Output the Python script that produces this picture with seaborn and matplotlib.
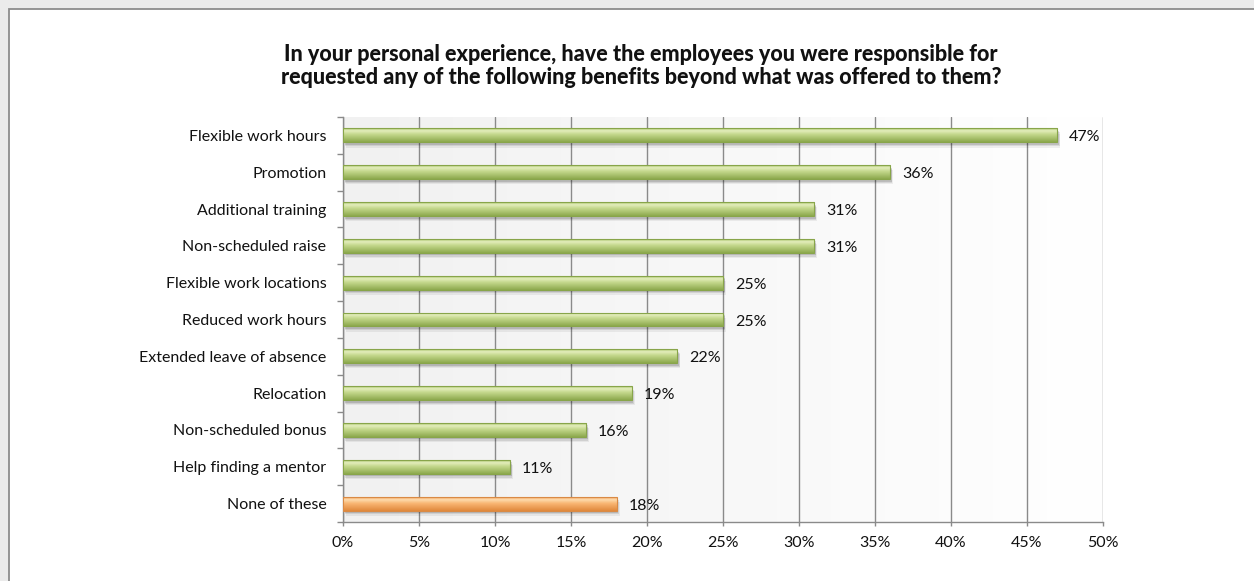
import numpy as np
import pandas as pd
import matplotlib
matplotlib.use("Agg")
import matplotlib.pyplot as plt
import seaborn as sns
from matplotlib.patches import Rectangle
from matplotlib.colors import LinearSegmentedColormap, to_rgb
import matplotlib.transforms as mtransforms

# ---- data -------------------------------------------------------------
categories = [
    "Flexible work hours",
    "Promotion",
    "Additional training",
    "Non-scheduled raise",
    "Flexible work locations",
    "Reduced work hours",
    "Extended leave of absence",
    "Relocation",
    "Non-scheduled bonus",
    "Help finding a mentor",
    "None of these",
]
values = [47, 36, 31, 31, 25, 25, 22, 19, 16, 11, 18]
x_ticks = [0, 5, 10, 15, 20, 25, 30, 35, 40, 45, 50]
x_tick_labels = [f"{t}%" for t in x_ticks]
title = ("In your personal experience, have the employees you were responsible for\n"
         "requested any of the following benefits beyond what was offered to them?")

# ---- style ------------------------------------------------------------
sns.set_theme(style="white")
plt.rcParams["font.family"] = ["Lato", "DejaVu Sans"]
text_color = "#111111"
label_size = 11.5

green_stops = [(0.0, "#a9c46c"), (0.18, "#e4eebd"), (0.45, "#c4d88c"), (1.0, "#8ca94d")]
orange_stops = [(0.0, "#f5a45e"), (0.18, "#fddcae"), (0.45, "#f9b673"), (1.0, "#e0883b")]
green_edge = "#88a54a"
orange_edge = "#d98a45"

df = pd.DataFrame({"category": categories, "value": values})
df["group"] = ["none" if c == "None of these" else "benefit" for c in categories]

fig = plt.figure(figsize=(12.54, 5.81), dpi=100)
fig.patch.set_facecolor("#ebebeb")

# chart frame
frame = Rectangle((8.5 / 1254, -0.05), 1.2, 1.05 - 8.5 / 581,
                  transform=fig.transFigure, facecolor="white",
                  edgecolor="#8c8c8c", linewidth=1.3, zorder=-10)
fig.patches.append(frame)

ax = fig.add_axes([343 / 1254, 1 - 522 / 581, 760 / 1254, 405 / 581])
ax.set_facecolor("none")

sns.barplot(data=df, x="value", y="category", hue="group",
            palette={"benefit": "#9bbb59", "none": "#f79646"},
            orient="h", width=0.38, dodge=False, legend=False, ax=ax)

ax.set_xlim(0, 50)
ax.set_ylim(len(categories) - 0.5, -0.5)

# plot-area background: soft horizontal fade
bg = np.linspace(0, 1, 256)[None, :]
bg_cmap = LinearSegmentedColormap.from_list("bg", ["#f1f1f1", "#ffffff"])
ax.imshow(bg, cmap=bg_cmap, extent=[0, 50, len(categories) - 0.5, -0.5],
          aspect="auto", zorder=0, interpolation="bicubic")

# gradient fill, edge and drop shadow for each bar
def grad_image(stops, n=64):
    pos = [p for p, _ in stops]
    cols = np.array([to_rgb(c) for _, c in stops])
    t = np.linspace(0, 1, n)
    img = np.stack([np.interp(t, pos, cols[:, k]) for k in range(3)], axis=-1)
    return img[:, None, :]

green_img = grad_image(green_stops)
orange_img = grad_image(orange_stops)

for patch, cat in zip(ax.patches, categories):
    x0, y0 = patch.get_x(), patch.get_y()
    w, h = patch.get_width(), patch.get_height()
    is_none = cat == "None of these"
    img = orange_img if is_none else green_img
    edge = orange_edge if is_none else green_edge
    # soft shadow below the bar
    for k, a in enumerate([0.12, 0.09, 0.06]):
        off = mtransforms.offset_copy(ax.transData, fig=fig, x=1.5 + k * 0.7,
                                      y=-(2.5 + k * 1.3), units="dots")
        ax.add_patch(Rectangle((x0, y0), w, h, transform=off, facecolor="#000000",
                               alpha=a, edgecolor="none", zorder=2))
    patch.set_facecolor("none")
    patch.set_edgecolor(edge)
    patch.set_linewidth(0.8)
    patch.set_zorder(4)
    im = ax.imshow(img, extent=[x0, x0 + w, y0 + h, y0], aspect="auto",
                   origin="upper", zorder=3, interpolation="bilinear")
    im.set_clip_path(patch)

ax.set_xlim(0, 50)
ax.set_ylim(len(categories) - 0.5, -0.5)

# value labels
for i, v in enumerate(values):
    ax.annotate(f"{v}%", xy=(v, i), xytext=(8.5, -1.5), textcoords="offset points",
                va="center", ha="left", fontsize=label_size, color=text_color, zorder=6)

# axes, grid, ticks
ax.set_xticks(x_ticks)
ax.set_xticklabels(x_tick_labels)
ax.xaxis.grid(True, color="#8a8a8a", linewidth=1.0, zorder=1)
ax.yaxis.grid(False)
ax.set_axisbelow(True)
for s in ["top", "right"]:
    ax.spines[s].set_visible(False)
for s in ["left", "bottom"]:
    ax.spines[s].set_color("#8a8a8a")
    ax.spines[s].set_linewidth(1.0)

ax.set_yticks(range(len(categories)))
ax.set_yticklabels(categories)
ax.set_yticks(np.arange(-0.5, len(categories), 1.0), minor=True)
ax.tick_params(axis="y", which="major", length=0, pad=12, labelsize=label_size,
               labelcolor=text_color)
ax.tick_params(axis="y", which="minor", left=True, length=4, width=1.0,
               color="#8a8a8a", direction="out")
ax.tick_params(axis="x", which="major", bottom=True, length=3, width=1.0,
               color="#8a8a8a", direction="out", pad=7, labelsize=label_size,
               labelcolor=text_color)
ax.set_xlabel("")
ax.set_ylabel("")

fig.text(641 / 1254, 1 - 66 / 581, title, ha="center", va="center",
         fontsize=15.5, fontweight=900, color=text_color, linespacing=1.12)

fig.savefig("out.png", dpi=100, facecolor=fig.get_facecolor())
